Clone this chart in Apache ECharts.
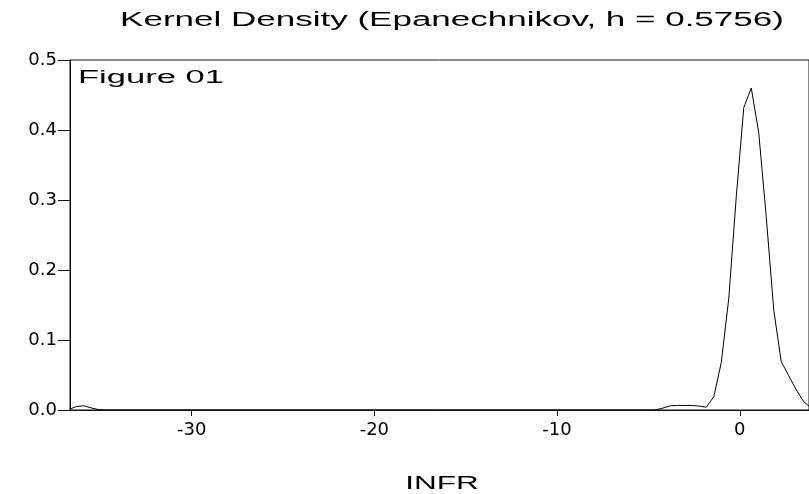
<!DOCTYPE html>
<html>
<head>
<meta charset="utf-8">
<script src="https://cdn.jsdelivr.net/npm/echarts@6/dist/echarts.min.js"></script>
<style>
  html, body { margin: 0; padding: 0; background: #fff; }
  #chart { width: 809px; height: 494px; }
</style>
</head>
<body>
<div id="chart"></div>
<script>
// kernel density estimate of INFR
const densityX = [
  -36.66, -36.3, -35.9, -35.5, -35.1, -34.7, -4.7, -4.3, -3.8, -3.4, -3.0, -2.6,
  -2.2, -1.83, -1.42, -1.01, -0.6, -0.19, 0.22, 0.63, 1.04, 1.45, 1.86, 2.27,
  2.68, 3.09, 3.5, 3.91
]
const densityY = [
  0.0015, 0.005, 0.006, 0.003, 0.0005, 0, 0, 0.002, 0.006, 0.0065, 0.0065, 0.0065,
  0.0055, 0.004, 0.019, 0.068, 0.16, 0.305, 0.432, 0.46, 0.396, 0.276, 0.143, 0.069,
  0.049, 0.029, 0.012, 0.003
]
const xTicks = [-30, -20, -10, 0]

const titleText = 'Kernel Density (Epanechnikov, h = 0.5756)'
const panelLabel = 'Figure 01'
const xName = 'INFR'

const font = '"Liberation Sans", Arial, sans-serif'

const chart = echarts.init(document.getElementById('chart'))

const option = {
  animation: false,
  backgroundColor: '#fff',
  grid: {
    left: 70,
    top: 60,
    right: -2,
    bottom: 84,
    show: true,
    borderColor: '#111',
    borderWidth: 1
  },
  xAxis: {
    type: 'value',
    min: -36.66,
    max: 3.79,
    splitLine: { show: false },
    axisLine: { onZero: false, lineStyle: { color: '#111', width: 1 } },
    axisTick: { show: true, length: 6, customValues: xTicks, lineStyle: { color: '#111' } },
    axisLabel: {
      customValues: xTicks,
      margin: 11,
      color: '#000',
      fontFamily: '"DejaVu Sans", sans-serif',
      fontSize: 18
    }
  },
  yAxis: {
    type: 'value',
    min: 0,
    max: 0.5,
    interval: 0.1,
    splitLine: { show: false },
    axisLine: { show: true, onZero: false, lineStyle: { color: '#111', width: 1 } },
    axisTick: { show: true, length: 12, lineStyle: { color: '#111' } },
    axisLabel: {
      margin: 13,
      color: '#000',
      fontFamily: '"DejaVu Sans", sans-serif',
      fontSize: 18,
      formatter: v => v.toFixed(1)
    }
  },
  graphic: [
    {
      type: 'text',
      x: 452,
      y: 20,
      scaleX: 1.75,
      style: {
        text: titleText,
        textAlign: 'center',
        textVerticalAlign: 'middle',
        font: '20px ' + font,
        fill: '#000'
      }
    },
    {
      type: 'text',
      x: 78,
      y: 78,
      scaleX: 1.92,
      style: {
        text: panelLabel,
        textAlign: 'left',
        textVerticalAlign: 'middle',
        font: '18px ' + font,
        fill: '#000'
      }
    },
    {
      type: 'text',
      x: 442,
      y: 484,
      scaleX: 1.75,
      style: {
        text: xName,
        textAlign: 'center',
        textVerticalAlign: 'middle',
        font: '18px ' + font,
        fill: '#000'
      }
    }
  ],
  series: [
    {
      type: 'line',
      data: densityX.map((x, i) => [x, densityY[i]]),
      showSymbol: false,
      clip: true,
      lineStyle: { color: '#000', width: 1 }
    }
  ]
}

chart.setOption(option)
</script>
</body>
</html>
